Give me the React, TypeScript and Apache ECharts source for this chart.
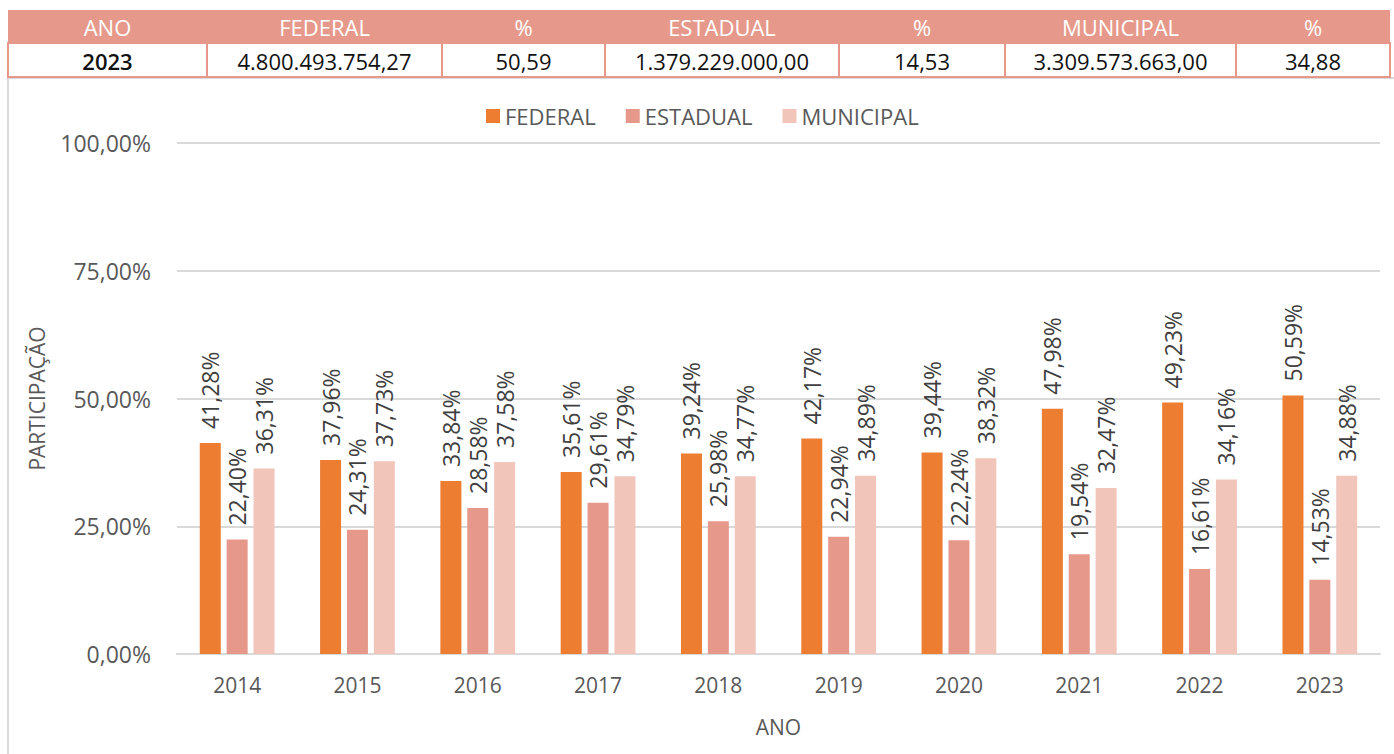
import React, { useEffect, useRef } from "react";
import * as echarts from "echarts";

const years = ["2014", "2015", "2016", "2017", "2018", "2019", "2020", "2021", "2022", "2023"];
const federal = [41.28, 37.96, 33.84, 35.61, 39.24, 42.17, 39.44, 47.98, 49.23, 50.59];
const estadual = [22.4, 24.31, 28.58, 29.61, 25.98, 22.94, 22.24, 19.54, 16.61, 14.53];
const municipal = [36.31, 37.73, 37.58, 34.79, 34.77, 34.89, 38.32, 32.47, 34.16, 34.88];
const seriesNames = ["FEDERAL", "ESTADUAL", "MUNICIPAL"];
const tableHeader = ["ANO", "FEDERAL", "%", "ESTADUAL", "%", "MUNICIPAL", "%"];
const tableRow = ["2023", "4.800.493.754,27", "50,59", "1.379.229.000,00", "14,53", "3.309.573.663,00", "34,88"];

const FONT = "'Open Sans', sans-serif";
const SALMON = "#E6998A";
const colX = [8, 207, 442, 605, 839, 1005, 1236, 1390];

const fmt = (v: number) => v.toFixed(2).replace(".", ",") + "%";

export default function App() {
  const ref = useRef<HTMLDivElement>(null);
  useEffect(() => {
    document.body.style.margin = "0";
    const chart = echarts.init(ref.current!, null, { renderer: "svg" });

    const graphics: any[] = [];
    graphics.push({
      type: "rect",
      shape: { x: 8, y: 78, width: 1400, height: 700 },
      style: { fill: "none", stroke: "#D9D9D9", lineWidth: 2 },
      silent: true,
    });
    graphics.push({
      type: "rect",
      shape: { x: colX[0], y: 10, width: colX[7] - colX[0], height: 33 },
      style: { fill: SALMON },
      silent: true,
    });
    for (let i = 0; i < 7; i++) {
      const x0 = colX[i];
      const x1 = colX[i + 1];
      graphics.push({
        type: "rect",
        shape: { x: x0, y: 43, width: x1 - x0, height: 34 },
        style: { fill: "#fff", stroke: SALMON, lineWidth: 2 },
        silent: true,
      });
      graphics.push({
        type: "text",
        x: (x0 + x1) / 2,
        y: 27,
        style: {
          text: tableHeader[i],
          fill: "#fff",
          font: `22px ${FONT}`,
          align: "center",
          verticalAlign: "middle",
        },
        silent: true,
      });
      graphics.push({
        type: "text",
        x: (x0 + x1) / 2,
        y: 61,
        style: {
          text: tableRow[i],
          fill: "#111",
          font: `${i === 0 ? "600 " : ""}22px ${FONT}`,
          align: "center",
          verticalAlign: "middle",
        },
        silent: true,
      });
    }

    const label = {
      show: true,
      position: "top",
      rotate: 90,
      align: "left",
      verticalAlign: "middle",
      distance: 14,
      fontFamily: FONT,
      fontSize: 23,
      color: "#404040",
      formatter: (p: any) => fmt(p.value),
    };

    const mk = (name: string, data: number[], color: string) => ({
      name,
      type: "bar",
      data,
      barWidth: 21,
      barGap: "28%",
      itemStyle: { color },
      label,
    });

    chart.setOption({
      animation: false,
      textStyle: { fontFamily: FONT },
      graphic: graphics,
      legend: {
        data: seriesNames,
        left: 481,
        top: 100,
        icon: "rect",
        itemWidth: 14,
        itemHeight: 14,
        itemGap: 30,
        textStyle: { fontFamily: FONT, fontSize: 22, color: "#595959" },
      },
      grid: { left: 177, right: 14, top: 143, bottom: 100, containLabel: false },
      xAxis: {
        type: "category",
        data: years,
        name: "ANO",
        nameLocation: "middle",
        nameGap: 62,
        nameTextStyle: { fontFamily: FONT, fontSize: 21, color: "#595959" },
        axisLine: { lineStyle: { color: "#D9D9D9", width: 2 } },
        axisTick: { show: false },
        axisLabel: { fontFamily: FONT, fontSize: 21, color: "#595959", margin: 20 },
      },
      yAxis: {
        type: "value",
        min: 0,
        max: 100,
        interval: 25,
        name: "PARTICIPAÇÃO",
        nameLocation: "middle",
        nameGap: 130,
        nameRotate: 90,
        nameTextStyle: { fontFamily: FONT, fontSize: 21, color: "#595959" },
        axisLine: { show: false },
        axisTick: { show: false },
        splitLine: { lineStyle: { color: "#D9D9D9", width: 2 } },
        axisLabel: {
          fontFamily: FONT,
          fontSize: 23,
          color: "#595959",
          margin: 26,
          formatter: (v: number) => v.toFixed(2).replace(".", ",") + "%",
        },
      },
      series: [
        mk(seriesNames[0], federal, "#ED7D31"),
        mk(seriesNames[1], estadual, SALMON),
        mk(seriesNames[2], municipal, "#F2C5BA"),
      ],
    });
    return () => chart.dispose();
  }, []);
  return <div ref={ref} style={{ width: 1394, height: 754 }} />;
}
